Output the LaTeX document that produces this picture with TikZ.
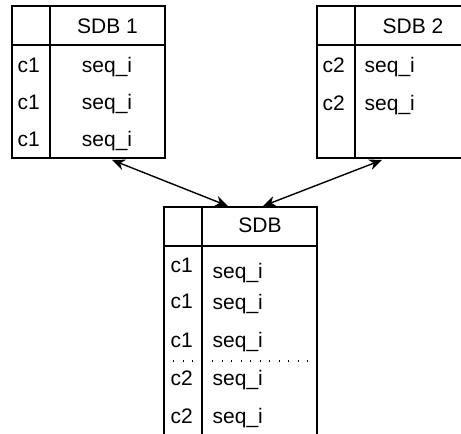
\documentclass[tikz,border=0pt]{standalone}
\usepackage{fontspec}
\setmainfont{Liberation Sans}
\usetikzlibrary{arrows.meta,positioning}

\begin{document}
\begin{tikzpicture}[x=1pt,y=-1pt,>={Stealth[length=13pt,width=11pt]},
		line width=1.4pt,
		cell/.style={anchor=base,inner sep=0pt,font=\fontsize{21}{25}\selectfont},
		key/.style={cell,anchor=base west},
		sep line/.style={line width=1.4pt,dash pattern=on 1.4pt off 8.1pt}]
		
		\useasboundingbox (0,0) rectangle (461,434);
		\clip (0,0) rectangle (461,434);
		
		% SDB 1
		\draw (12,6) rectangle (165,158);
		\draw (50,6) -- (50,158) (12,45) -- (165,45);
		\node[cell] (hone) at (107.5,33) {SDB 1};
		\node[key] (kone) at (17,72) {c1};
		\node[key] (ktwo) at (17,109) {c1};
		\node[key] (kthree) at (17,146) {c1};
		\node[cell] (sone) at (107,72) {seq\_i};
		\node[cell] (stwo) at (107,109) {seq\_i};
		\node[cell] (sthree) at (107,146) {seq\_i};
		
		% SDB 2
		\draw (470,6) -- (317,6) -- (317,158) -- (470,158);
		\draw (355,6) -- (355,158) (317,45) -- (470,45);
		\node[cell] (htwo) at (413,33) {SDB 2};
		\node[key] (kfour) at (322,72) {c2};
		\node[key] (kfive) at (322,110) {c2};
		\node[key] (sfour) at (364,72) {seq\_i};
		\node[key] (sfive) at (364,110) {seq\_i};
		
		% SDB
		\draw (164,450) -- (164,207) -- (317,207) -- (317,450);
		\draw (202,207) -- (202,450) (164,246) -- (317,246);
		\node[cell] (hsdb) at (260,232) {SDB};
		\node[key] (ksix) at (170,272) {c1};
		\node[key] (kseven) at (170,308) {c1};
		\node[key] (keight) at (170,347) {c1};
		\node[key] (knine) at (170,385) {c2};
		\node[key] (kten) at (170,423) {c2};
		\node[key] (ssix) at (212,278) {seq\_i};
		\node[key] (sseven) at (212,309) {seq\_i};
		\node[key] (seight) at (212,347) {seq\_i};
		\node[key] (snine) at (212,385) {seq\_i};
		\node[key] (sten) at (212,423) {seq\_i};
		\draw[sep line] (173,361) -- (194,361) (212,361) -- (312,361);
		
		\coordinate (aone) at (112,160);
		\coordinate (bone) at (228,206);
		\coordinate (atwo) at (382,160);
		\coordinate (btwo) at (263,206);
		
		\path (aone) edge [<->] (bone)
		(atwo) edge [<->] (btwo);
		
\end{tikzpicture}
\end{document}
